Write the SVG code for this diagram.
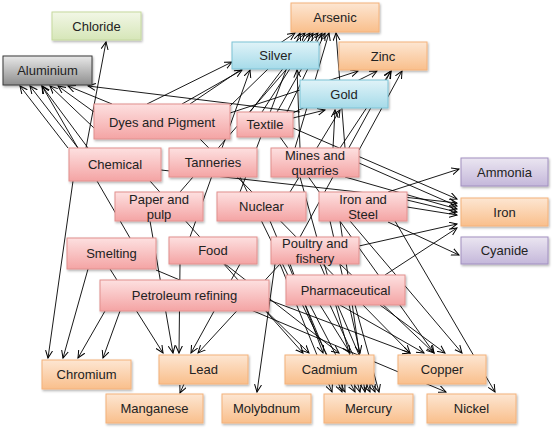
<svg xmlns="http://www.w3.org/2000/svg" width="553" height="430" viewBox="0 0 553 430">
<defs>
<linearGradient id="gPink" x1="0" y1="0" x2="0" y2="1"><stop offset="0" stop-color="#fde0e0"/><stop offset="1" stop-color="#f4a4a4"/></linearGradient>
<linearGradient id="gOr" x1="0" y1="0" x2="0" y2="1"><stop offset="0" stop-color="#fde6d2"/><stop offset="1" stop-color="#f9bf8c"/></linearGradient>
<linearGradient id="gBl" x1="0" y1="0" x2="0" y2="1"><stop offset="0" stop-color="#e0f3f8"/><stop offset="1" stop-color="#a6dbe9"/></linearGradient>
<linearGradient id="gPu" x1="0" y1="0" x2="0" y2="1"><stop offset="0" stop-color="#ebe6f1"/><stop offset="1" stop-color="#c4b7da"/></linearGradient>
<linearGradient id="gGr" x1="0" y1="0" x2="0" y2="1"><stop offset="0" stop-color="#f2f7e6"/><stop offset="1" stop-color="#d6e6b8"/></linearGradient>
<linearGradient id="gGy" x1="0" y1="0" x2="0" y2="1"><stop offset="0" stop-color="#e8e8e8"/><stop offset="1" stop-color="#8e8e8e"/></linearGradient>
<filter id="sh" x="-10%" y="-10%" width="130%" height="140%"><feDropShadow dx="1" dy="1.5" stdDeviation="1" flood-color="#000" flood-opacity="0.3"/></filter>
<marker id="ar" markerWidth="9" markerHeight="9" refX="7.5" refY="4" orient="auto" markerUnits="userSpaceOnUse"><path d="M0,0.5 L7.5,4 L0,7.5" fill="none" stroke="#000" stroke-width="1"/></marker>
</defs>
<style>
.c line{stroke:#000;stroke-width:0.9;marker-end:url(#ar)}
.n rect{stroke-width:1;filter:url(#sh)}
.p rect{fill:url(#gPink);stroke:#e2908e}
.o rect{fill:url(#gOr);stroke:#f4b27a}
.b rect{fill:url(#gBl);stroke:#7cc3d6}
.u rect{fill:url(#gPu);stroke:#a190c0}
.g rect{fill:url(#gGr);stroke:#c5d99e}
.y rect{fill:url(#gGy);stroke:#3a3a3a}
text{font-family:"Liberation Sans",Arial,sans-serif;font-size:13px;fill:#222;text-anchor:middle}
</style>
<rect width="553" height="430" fill="#fff"/>
<g id="connectors" class="c">
<line x1="68" y1="148" x2="20" y2="86"/>
<line x1="78" y1="148" x2="30" y2="86"/>
<line x1="88" y1="148" x2="42" y2="86"/>
<line x1="94" y1="128" x2="50" y2="86"/>
<line x1="94" y1="112" x2="58" y2="86"/>
<line x1="112" y1="104" x2="68" y2="86"/>
<line x1="300" y1="112" x2="88" y2="86"/>
<line x1="130" y1="238" x2="42" y2="86"/>
<line x1="86" y1="148" x2="106" y2="42"/>
<line x1="147" y1="104" x2="232" y2="62"/>
<line x1="182" y1="104" x2="242" y2="70"/>
<line x1="300" y1="148" x2="297" y2="70"/>
<line x1="190" y1="237" x2="250" y2="70"/>
<line x1="190" y1="104" x2="295" y2="33"/>
<line x1="230" y1="106" x2="305" y2="33"/>
<line x1="250" y1="112" x2="310" y2="33"/>
<line x1="262" y1="112" x2="313" y2="33"/>
<line x1="277" y1="112" x2="322" y2="33"/>
<line x1="287" y1="112" x2="325" y2="33"/>
<line x1="295" y1="148" x2="329" y2="33"/>
<line x1="345" y1="148" x2="336" y2="33"/>
<line x1="240" y1="192" x2="300" y2="33"/>
<line x1="180" y1="192" x2="318" y2="33"/>
<line x1="230" y1="113" x2="358" y2="71"/>
<line x1="293" y1="113" x2="377" y2="71"/>
<line x1="340" y1="148" x2="391" y2="71"/>
<line x1="359" y1="150" x2="402" y2="71"/>
<line x1="300" y1="237" x2="391" y2="71"/>
<line x1="293" y1="118" x2="325" y2="110"/>
<line x1="333" y1="148" x2="335" y2="110"/>
<line x1="290" y1="192" x2="340" y2="110"/>
<line x1="293" y1="128" x2="457" y2="199"/>
<line x1="161" y1="170" x2="457" y2="203"/>
<line x1="359" y1="163" x2="457" y2="206"/>
<line x1="345" y1="177" x2="457" y2="209"/>
<line x1="407" y1="200" x2="457" y2="212"/>
<line x1="407" y1="207" x2="457" y2="215"/>
<line x1="359" y1="246" x2="457" y2="224"/>
<line x1="385" y1="275" x2="457" y2="228"/>
<line x1="388" y1="192" x2="459" y2="169"/>
<line x1="388" y1="222" x2="459" y2="255"/>
<line x1="73" y1="181" x2="48" y2="358"/>
<line x1="88" y1="269" x2="63" y2="358"/>
<line x1="105" y1="311" x2="78" y2="358"/>
<line x1="120" y1="311" x2="103" y2="358"/>
<line x1="110" y1="269" x2="163" y2="353"/>
<line x1="150" y1="221" x2="173" y2="353"/>
<line x1="180" y1="264" x2="179" y2="353"/>
<line x1="240" y1="264" x2="191" y2="353"/>
<line x1="280" y1="264" x2="198" y2="353"/>
<line x1="184" y1="384" x2="180" y2="393"/>
<line x1="275" y1="264" x2="257" y2="392"/>
<line x1="150" y1="181" x2="303" y2="353"/>
<line x1="255" y1="300" x2="309" y2="353"/>
<line x1="290" y1="264" x2="323" y2="353"/>
<line x1="225" y1="264" x2="339" y2="353"/>
<line x1="320" y1="305" x2="350" y2="353"/>
<line x1="330" y1="221" x2="360" y2="353"/>
<line x1="280" y1="264" x2="332" y2="392"/>
<line x1="270" y1="221" x2="342" y2="392"/>
<line x1="240" y1="177" x2="345" y2="392"/>
<line x1="310" y1="305" x2="355" y2="392"/>
<line x1="300" y1="177" x2="360" y2="392"/>
<line x1="340" y1="221" x2="365" y2="392"/>
<line x1="330" y1="305" x2="370" y2="392"/>
<line x1="320" y1="264" x2="375" y2="392"/>
<line x1="355" y1="305" x2="379" y2="392"/>
<line x1="269" y1="300" x2="410" y2="353"/>
<line x1="200" y1="139" x2="410" y2="353"/>
<line x1="340" y1="305" x2="424" y2="353"/>
<line x1="340" y1="264" x2="434" y2="353"/>
<line x1="280" y1="137" x2="434" y2="353"/>
<line x1="380" y1="305" x2="445" y2="353"/>
<line x1="350" y1="221" x2="462" y2="353"/>
<line x1="156" y1="270" x2="446" y2="392"/>
<line x1="395" y1="221" x2="495" y2="392"/>
</g>
<g id="n-chloride" class="n g"><rect x="52" y="12" width="89" height="28"/><text x="96.5" y="31">Chloride</text></g>
<g id="n-aluminium" class="n y"><rect x="3" y="56" width="89" height="29"/><text x="47.5" y="75">Aluminium</text></g>
<g id="n-silver" class="n b"><rect x="232" y="42" width="87" height="27"/><text x="275.5" y="60">Silver</text></g>
<g id="n-arsenic" class="n o"><rect x="291" y="3" width="88" height="29"/><text x="335" y="22">Arsenic</text></g>
<g id="n-zinc" class="n o"><rect x="339" y="42" width="88" height="28"/><text x="383" y="60.5">Zinc</text></g>
<g id="n-gold" class="n b"><rect x="300" y="80" width="88" height="28"/><text x="344" y="98.5">Gold</text></g>
<g id="n-dyes" class="n p"><rect x="94" y="104" width="136" height="35"/><text x="162" y="126.5">Dyes and Pigment</text></g>
<g id="n-textile" class="n p"><rect x="237" y="112" width="56" height="25"/><text x="265" y="129">Textile</text></g>
<g id="n-chemical" class="n p"><rect x="69" y="148" width="92" height="33"/><text x="115" y="169">Chemical</text></g>
<g id="n-tanneries" class="n p"><rect x="169" y="148" width="88" height="29"/><text x="213" y="167">Tanneries</text></g>
<g id="n-mines" class="n p"><rect x="271" y="148" width="88" height="29"/><text x="315" y="160">Mines and</text><text x="315" y="175">quarries</text></g>
<g id="n-paper" class="n p"><rect x="115" y="192" width="88" height="29"/><text x="159" y="204">Paper and</text><text x="159" y="219">pulp</text></g>
<g id="n-nuclear" class="n p"><rect x="217" y="192" width="89" height="29"/><text x="261.5" y="211">Nuclear</text></g>
<g id="n-ironsteel" class="n p"><rect x="319" y="192" width="88" height="29"/><text x="363" y="204">Iron and</text><text x="363" y="219">Steel</text></g>
<g id="n-smelting" class="n p"><rect x="67" y="238" width="89" height="31"/><text x="111.5" y="258">Smelting</text></g>
<g id="n-food" class="n p"><rect x="169" y="237" width="88" height="27"/><text x="213" y="255">Food</text></g>
<g id="n-poultry" class="n p"><rect x="271" y="237" width="88" height="27"/><text x="315" y="248">Poultry and</text><text x="315" y="263">fishery</text></g>
<g id="n-petroleum" class="n p"><rect x="100" y="280" width="169" height="31"/><text x="184.5" y="300">Petroleum refining</text></g>
<g id="n-pharma" class="n p"><rect x="286" y="275" width="119" height="30"/><text x="345.5" y="294.5">Pharmaceutical</text></g>
<g id="n-ammonia" class="n u"><rect x="461" y="158" width="87" height="28"/><text x="504.5" y="176.5">Ammonia</text></g>
<g id="n-iron" class="n o"><rect x="461" y="198" width="87" height="28"/><text x="504.5" y="216.5">Iron</text></g>
<g id="n-cyanide" class="n u"><rect x="461" y="237" width="87" height="27"/><text x="504.5" y="255">Cyanide</text></g>
<g id="n-chromium" class="n o"><rect x="42" y="360" width="89" height="29"/><text x="86.5" y="379">Chromium</text></g>
<g id="n-lead" class="n o"><rect x="159" y="355" width="89" height="29"/><text x="203.5" y="374">Lead</text></g>
<g id="n-manganese" class="n o"><rect x="106" y="394" width="97" height="29"/><text x="154.5" y="413">Manganese</text></g>
<g id="n-molybdnum" class="n o"><rect x="222" y="394" width="89" height="29"/><text x="266.5" y="413">Molybdnum</text></g>
<g id="n-cadmium" class="n o"><rect x="285" y="355" width="89" height="29"/><text x="329.5" y="374">Cadmium</text></g>
<g id="n-copper" class="n o"><rect x="398" y="355" width="88" height="29"/><text x="442" y="374">Copper</text></g>
<g id="n-mercury" class="n o"><rect x="324" y="394" width="89" height="29"/><text x="368.5" y="413">Mercury</text></g>
<g id="n-nickel" class="n o"><rect x="427" y="394" width="89" height="29"/><text x="471.5" y="413">Nickel</text></g>
</svg>
